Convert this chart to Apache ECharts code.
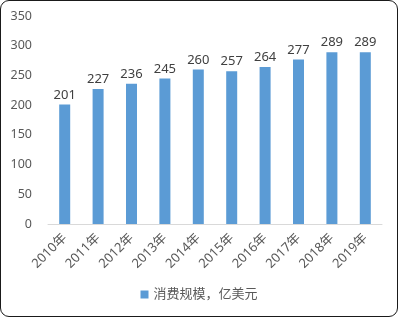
<!DOCTYPE html>
<html>
<head>
<meta charset="utf-8">
<script src="https://cdn.jsdelivr.net/npm/echarts@6/dist/echarts.min.js"></script>
<style>
  html, body { margin: 0; padding: 0; background: #fff; }
  #frame {
    position: absolute; left: 0; top: 0; width: 396px; height: 315px;
    border: 1px solid #1a1a1a; border-radius: 9px; overflow: hidden; background: #fff;
  }
  #chart { width: 396px; height: 315px; }
</style>
</head>
<body>
<div id="frame"><div id="chart"></div></div>
<script>
const years = ['2010年', '2011年', '2012年', '2013年', '2014年', '2015年', '2016年', '2017年', '2018年', '2019年'];
const spending = [201, 227, 236, 245, 260, 257, 264, 277, 289, 289];
const seriesName = '消费规模，亿美元';
const yTicks = { min: 0, max: 350, interval: 50 };

const font = "'Noto Sans', 'Noto Sans CJK SC', sans-serif";
const chart = echarts.init(document.getElementById('chart'));
chart.setOption({
  animation: false,
  textStyle: { fontFamily: font },
  grid: { left: 47, right: 15, top: 15, bottom: 92 },
  legend: {
    data: [seriesName],
    bottom: 10,
    left: 'center',
    itemWidth: 8,
    itemHeight: 8,
    itemGap: 4,
    icon: 'rect',
    textStyle: { color: '#595959', fontSize: 13, fontFamily: font }
  },
  xAxis: {
    type: 'category',
    data: years,
    axisLine: { lineStyle: { color: '#d9d9d9', width: 1 } },
    axisTick: { show: false },
    axisLabel: { rotate: 45, color: '#595959', fontSize: 13, margin: 12, interval: 0 }
  },
  yAxis: {
    type: 'value',
    min: yTicks.min,
    max: yTicks.max,
    interval: yTicks.interval,
    splitLine: { show: false },
    axisLine: { show: false },
    axisTick: { show: false },
    axisLabel: { color: '#595959', fontSize: 12.5, margin: 16 }
  },
  series: [{
    name: seriesName,
    type: 'bar',
    data: spending,
    barWidth: 11,
    itemStyle: { color: '#5b9bd5' },
    label: { show: true, position: 'top', color: '#404040', fontSize: 13, distance: 3 }
  }]
});
</script>
</body>
</html>
